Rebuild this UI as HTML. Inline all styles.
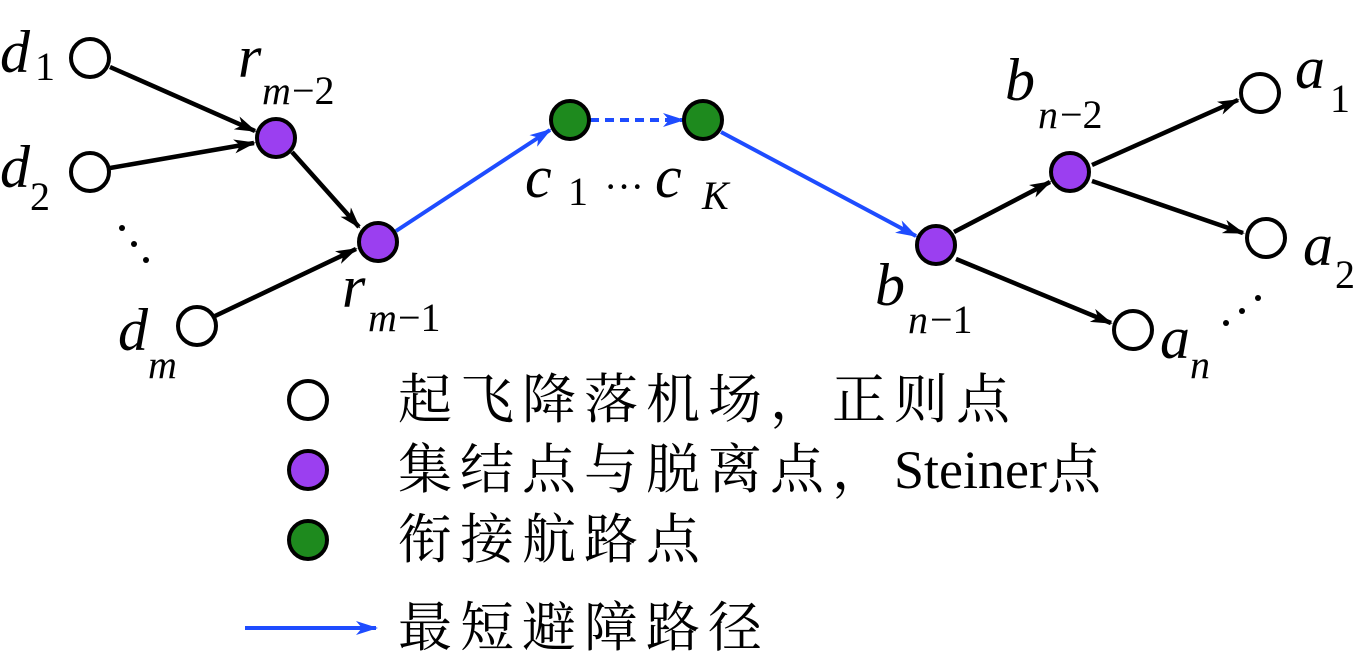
<!DOCTYPE html>
<html><head><meta charset="utf-8"><style>
html,body{margin:0;padding:0;background:#fff;}
svg{display:block}
</style></head><body>
<svg width="1357" height="662" viewBox="0 0 1357 662" xmlns="http://www.w3.org/2000/svg">
<defs>
<marker id="ak" markerWidth="22" markerHeight="14" refX="20" refY="7" orient="auto" markerUnits="userSpaceOnUse" viewBox="0 0 22 14"><path d="M0,0 L22,7 L0,14 L6,7z" fill="#000"/></marker>
<marker id="ab" markerWidth="22" markerHeight="14" refX="20" refY="7" orient="auto" markerUnits="userSpaceOnUse" viewBox="0 0 22 14"><path d="M0,0 L22,7 L0,14 L6,7z" fill="#1e4cff"/></marker>
</defs>
<g stroke="#000" stroke-width="4.5" marker-end="url(#ak)">
<line x1="110" y1="67" x2="255" y2="131"/>
<line x1="110" y1="168" x2="254" y2="143"/>
<line x1="292" y1="152" x2="359" y2="227"/>
<line x1="215" y1="316" x2="356" y2="249"/>
<line x1="954" y1="232" x2="1050" y2="182"/>
<line x1="1092" y1="165" x2="1238" y2="100"/>
<line x1="1092" y1="181" x2="1243" y2="233"/>
<line x1="956" y1="259" x2="1111" y2="323"/>
</g>
<g stroke="#1e4cff" stroke-width="4" marker-end="url(#ab)">
<line x1="396" y1="231" x2="550" y2="130"/>
<line x1="721" y1="132" x2="916" y2="236"/>
<line x1="590" y1="120" x2="683" y2="120" stroke-dasharray="9,6"/>
<line x1="245" y1="628" x2="376" y2="628"/>
</g>
<g stroke="#000" stroke-width="4">
<circle cx="90" cy="58" r="19" fill="#fff"/>
<circle cx="90" cy="172" r="19" fill="#fff"/>
<circle cx="197" cy="326" r="19" fill="#fff"/>
<circle cx="276" cy="138" r="19" fill="#9b3ff0"/>
<circle cx="378" cy="242" r="19" fill="#9b3ff0"/>
<circle cx="570" cy="120" r="19" fill="#1e8a1e"/>
<circle cx="703" cy="120" r="19" fill="#1e8a1e"/>
<circle cx="936" cy="245" r="19" fill="#9b3ff0"/>
<circle cx="1070" cy="172" r="19" fill="#9b3ff0"/>
<circle cx="1260" cy="93" r="19" fill="#fff"/>
<circle cx="1266" cy="238" r="19" fill="#fff"/>
<circle cx="1133" cy="330" r="19" fill="#fff"/>
<circle cx="308" cy="400" r="19" fill="#fff"/>
<circle cx="308" cy="470" r="19" fill="#9b3ff0"/>
<circle cx="308" cy="540" r="19" fill="#1e8a1e"/>
</g>
<g fill="#000">
<circle cx="122" cy="228" r="3"/><circle cx="134" cy="244" r="3"/><circle cx="146" cy="260" r="3"/>
<circle cx="1226" cy="323" r="3"/><circle cx="1242" cy="311" r="3"/><circle cx="1258" cy="298" r="3"/>
</g>
<g font-size="60" font-family="'Liberation Serif','DejaVu Serif',serif" font-style="italic">
<text x="0" y="72">d</text>
<text x="0" y="187">d</text>
<text x="118" y="350">d</text>
<text x="238" y="77">r</text>
<text x="342" y="307">r</text>
<text x="525" y="197">c</text>
<text x="655" y="197">c</text>
<text x="1005" y="100">b</text>
<text x="875" y="305">b</text>
<text x="1295" y="88">a</text>
<text x="1303" y="265">a</text>
<text x="1160" y="358">a</text>
</g>
<g font-size="40" font-family="'Liberation Serif','DejaVu Serif',serif">
<text x="35" y="80">1</text>
<text x="30" y="210">2</text>
<text font-style="italic" x="148" y="378">m</text>
<text font-style="italic" x="262" y="104">m</text><text x="292" y="104">−2</text>
<text font-style="italic" x="368" y="331">m</text><text x="398" y="331">−1</text>
<text x="568" y="205">1</text>
<text x="604" y="200">···</text>
<text font-style="italic" x="702" y="209">K</text>
<text font-style="italic" x="1038" y="128">n</text><text x="1060" y="128">−2</text>
<text font-style="italic" x="908" y="333">n</text><text x="930" y="333">−1</text>
<text x="1330" y="112">1</text>
<text x="1335" y="288">2</text>
<text font-style="italic" x="1190" y="378">n</text>
</g>
<g font-size="54" letter-spacing="8" font-family="'Liberation Serif','Noto Serif CJK SC',serif">
<text x="398" y="418">起飞降落机场，正则点</text>
<text x="398" y="488">集结点与脱离点，<tspan letter-spacing="0">Steiner</tspan>点</text>
<text x="398" y="558">衔接航路点</text>
<text x="398" y="646">最短避障路径</text>
</g>
</svg>
</body></html>
